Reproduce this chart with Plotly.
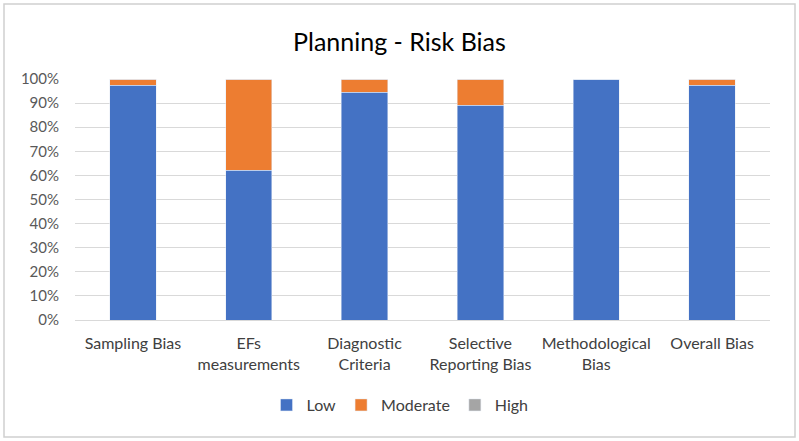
import plotly.graph_objects as go

categories = ["Sampling Bias", "EFs<br>measurements", "Diagnostic<br>Criteria",
              "Selective<br>Reporting Bias", "Methodological<br>Bias", "Overall Bias"]
low = [0.975, 0.622, 0.946, 0.892, 1.0, 0.975]
moderate = [0.025, 0.378, 0.054, 0.108, 0.0, 0.025]
high = [0, 0, 0, 0, 0, 0]
tick_vals = [i / 10 for i in range(11)]
tick_text = [f"{i*10}%" for i in range(11)]

W, H = 799, 441
L, R, T, B = 75, 29, 79, 121
pw, ph = W - L - R, H - T - B

fig = go.Figure()
fig.add_bar(x=categories, y=low, name="Low", marker_color="#4472C4")
fig.add_bar(x=categories, y=moderate, name="Moderate", marker_color="#ED7D31")
fig.add_bar(x=categories, y=high, name="High", marker_color="#A5A5A5")

def px_x(p):
    return (p - L) / pw

def px_y(p):
    return (H - B - p) / ph

fig.update_layout(
    width=W, height=H,
    barmode="stack", bargap=0.6,
    margin=dict(l=L, r=R, t=T, b=B),
    paper_bgcolor="white", plot_bgcolor="white",
    font=dict(family="Lato, Open Sans, sans-serif", color="#595959", size=15),
    title=dict(text="Planning - Risk Bias", x=0.5, xanchor="center", y=1 - 42 / H, yanchor="middle",
               font=dict(size=25, color="#000000")),
    xaxis=dict(showline=True, linecolor="#D9D9D9", linewidth=1, tickfont=dict(size=16, color="#404040"),
               ticks="", ticklabelstandoff=9),
    yaxis=dict(range=[0, 1.0], tickvals=tick_vals, ticktext=tick_text, showgrid=True,
               gridcolor="#D9D9D9", gridwidth=1, zeroline=False, tickfont=dict(size=15, color="#595959"),
               ticklabelstandoff=15),
    legend=dict(orientation="h", x=px_x(400), xanchor="center", y=px_y(405), yanchor="middle",
                font=dict(size=16, color="#404040"), traceorder="normal", itemwidth=30),
    showlegend=True,
    shapes=[dict(type="rect", xref="paper", yref="paper",
                 x0=px_x(4), x1=px_x(795), y0=px_y(437), y1=px_y(4),
                 line=dict(color="#D0D0D0", width=1.5), layer="below")],
)

fig.write_html("out.html", config={"displayModeBar": False},
               post_script="document.body.style.margin='0px';")
